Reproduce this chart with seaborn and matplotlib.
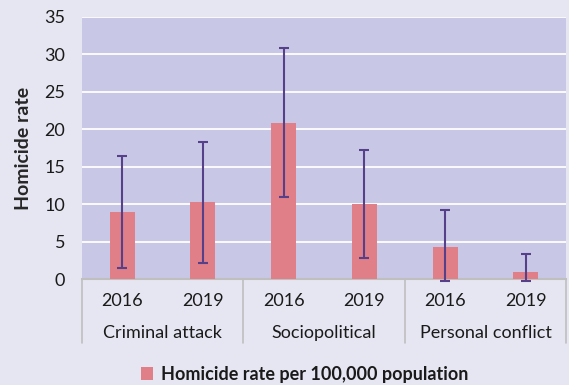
import matplotlib
matplotlib.use("Agg")
import matplotlib.pyplot as plt
import matplotlib.transforms as mtransforms
from matplotlib.patches import Patch
import seaborn as sns
import pandas as pd
import numpy as np

groups = ["Criminal attack", "Sociopolitical", "Personal conflict"]
years = ["2016", "2019", "2016", "2019", "2016", "2019"]
rates = [9.0, 10.25, 20.8, 10.0, 4.3, 0.95]
err_upper = [16.5, 18.35, 30.85, 17.2, 9.25, 3.35]
err_lower = [1.5, 2.15, 11.0, 2.8, -0.3, -0.3]
yticks = [0, 5, 10, 15, 20, 25, 30, 35]
legend_label = "Homicide rate per 100,000 population"

fig_bg = "#E6E6F2"
plot_bg = "#C8C8E6"
bar_color = "#E07F88"
err_color = "#56408A"
text_color = "#1a1a1a"

sns.set_theme(style="white")
plt.rcParams["font.family"] = ["Lato", "DejaVu Sans"]

fig = plt.figure(figsize=(5.69, 3.85), dpi=100, facecolor=fig_bg)
ax = fig.add_axes([0.144, 0.275, 0.851, 0.681])
ax.set_facecolor(plot_bg)

keys = [f"{g}|{y}" for g in groups for y in ["2016", "2019"]]
df = pd.DataFrame({"key": keys, "rate": rates})
sns.barplot(data=df, x="key", y="rate", order=keys, color=bar_color,
            width=0.31, saturation=1, errorbar=None, ax=ax, zorder=3,
            linewidth=0)

xs = np.arange(len(rates))
yerr = [np.array(rates) - np.array(err_lower), np.array(err_upper) - np.array(rates)]
ax.errorbar(xs, rates, yerr=yerr, fmt="none", ecolor=err_color, elinewidth=1.5,
            capsize=3.8, capthick=1.5, zorder=4, clip_on=False)

ax.set_ylim(0, 35)
ax.set_xlim(-0.5, 5.5)
ax.set_yticks(yticks)
ax.set_yticklabels([str(t) for t in yticks], fontsize=13, color=text_color)
ax.yaxis.grid(True, color="white", linewidth=1.3, zorder=0)
ax.set_axisbelow(True)
for s in ["left", "right", "top"]:
    ax.spines[s].set_visible(False)
ax.spines["bottom"].set_color("#BFBFBF")
ax.spines["bottom"].set_linewidth(1.5)
ax.tick_params(axis="y", length=0, pad=12)
ax.set_xticks([])
ax.set_xlabel("")
ax.set_ylabel("Homicide rate", fontsize=14, fontweight="bold", labelpad=9)

trans = mtransforms.blended_transform_factory(ax.transData, ax.transAxes)
for i, y in enumerate(years):
    ax.text(i, -0.082, y, transform=trans, ha="center", va="center",
            fontsize=13, color=text_color)
for gi, g in enumerate(groups):
    ax.text(2 * gi + 0.5, -0.205, g, transform=trans, ha="center", va="center",
            fontsize=13, color=text_color)
for xb in [-0.5, 1.5, 3.5, 5.5]:
    ax.plot([xb, xb], [0, -0.245], transform=trans, color="#BFBFBF",
            linewidth=1.2, clip_on=False)

handle = Patch(facecolor=bar_color, edgecolor="none")
leg = fig.legend([handle], [legend_label], loc="center", bbox_to_anchor=(0.535, 0.027),
                 frameon=False, handlelength=0.7, handleheight=0.7, handletextpad=0.4,
                 prop={"weight": "bold", "size": 13})
for t in leg.get_texts():
    t.set_color(text_color)

fig.savefig("out.png", dpi=100, facecolor=fig_bg)
